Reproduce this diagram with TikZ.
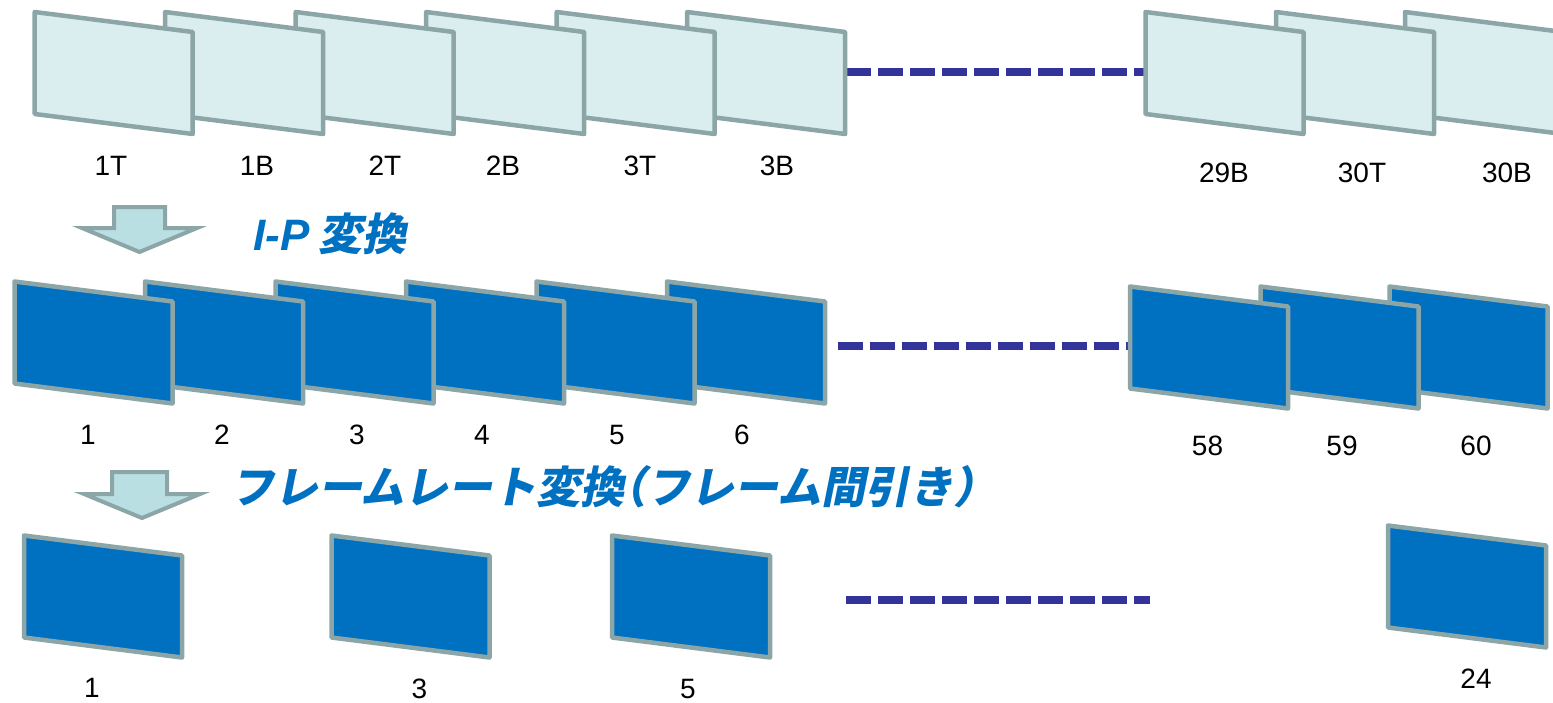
\documentclass[tikz,border=0pt]{standalone}
\usepackage{fontspec}
\setmainfont{Liberation Sans}
\newfontfamily\jfont[FakeSlant=0.2]{Noto Sans CJK JP}
\newfontfamily\lfont{Liberation Sans}
\definecolor{palec}{RGB}{218,237,239}
\definecolor{edgec}{RGB}{140,166,168}
\definecolor{bluec}{RGB}{0,112,192}
\definecolor{dashc}{RGB}{51,51,153}
\definecolor{arrowc}{RGB}{185,223,227}
\newcommand\drawscreen[4]{%
  \draw[#4] (#2,#3) coordinate (#1) -- ++(158,20) -- ++(0,102) -- ++(-158,-20) -- cycle;}
\tikzset{
  scrn/.style={line width=4.5pt, draw=edgec, line join=round},
  pale/.style={scrn, fill=palec},
  deep/.style={scrn, fill=bluec},
  dots/.style={draw=dashc, line width=8.5pt, dash pattern=on 24.5pt off 7.5pt},
  down/.style={draw=edgec, fill=arrowc, line width=4pt, line join=miter},
  lbl/.style={font=\fontsize{28}{30}\selectfont, anchor=base, inner sep=0pt},
  ttl/.style={text=bluec, anchor=base west, inner sep=0pt, font=\fontsize{44}{48}\selectfont\bfseries}
}
\begin{document}
\begin{tikzpicture}[x=1pt,y=-1pt]
\useasboundingbox (0,0) rectangle (1553,702);
% dashed gaps
\coordinate (dt1) at (846,72);  \coordinate (dt2) at (1148,72);
\coordinate (dm1) at (838,346); \coordinate (dm2) at (1132,346);
\coordinate (db1) at (846,600); \coordinate (db2) at (1150,600);
\draw[dots] (dt1) -- (dt2);
\draw[dots] (dm1) -- (dm2);
\draw[dots] (db1) -- (db2);
% top row (fields)
\drawscreen{f30B}{1405}{12}{pale}
\drawscreen{f30T}{1276}{12}{pale}
\drawscreen{f29B}{1145.5}{12}{pale}
\drawscreen{f3B}{687.2}{12}{pale}
\drawscreen{f3T}{556.7}{12}{pale}
\drawscreen{f2B}{426.2}{12}{pale}
\drawscreen{f2T}{295.7}{12}{pale}
\drawscreen{f1B}{165.2}{12}{pale}
\drawscreen{f1T}{34.7}{12}{pale}
% middle row (frames)
\drawscreen{p60}{1389.5}{286.5}{deep}
\drawscreen{p59}{1260.5}{286.5}{deep}
\drawscreen{p58}{1130}{286.5}{deep}
\drawscreen{p6}{667}{281.5}{deep}
\drawscreen{p5}{536.5}{281.5}{deep}
\drawscreen{p4}{406}{281.5}{deep}
\drawscreen{p3}{275.5}{281.5}{deep}
\drawscreen{p2}{145}{281.5}{deep}
\drawscreen{p1}{14.5}{281.5}{deep}
% bottom row
\drawscreen{q1}{24}{535.5}{deep}
\drawscreen{q3}{331.5}{535.5}{deep}
\drawscreen{q5}{612}{535.5}{deep}
\drawscreen{q24}{1388}{525.5}{deep}
% arrows
\draw[down] (114,207) -- (165,207) -- (165,228) -- (197,228) -- (139.5,252) -- (82,228) -- (114,228) -- cycle;
\draw[down] (112,472) -- (167,472) -- (167,494) -- (200,494) -- (142,518) -- (84,494) -- (112,494) -- cycle;
% titles
\node[ttl] (t1) at (253,250) {\lfont\itshape I-P\kern9pt\jfont 変換};
\node[ttl] (t2) at (230,503) {\jfont フレームレート変換\kern-0.5em（フレーム間引き）};
% labels
\node[lbl] (a1) at (111,175) {1T};
\node[lbl] (a2) at (257,175) {1B};
\node[lbl] (a3) at (385,175) {2T};
\node[lbl] (a4) at (503,175) {2B};
\node[lbl] (a5) at (640,175) {3T};
\node[lbl] (a6) at (777,175) {3B};
\node[lbl] (a7) at (1224,182) {29B};
\node[lbl] (a8) at (1362,182) {30T};
\node[lbl] (a9) at (1507,182) {30B};
\node[lbl] (b1) at (88,444) {1};
\node[lbl] (b2) at (222,444) {2};
\node[lbl] (b3) at (357,444) {3};
\node[lbl] (b4) at (482,444) {4};
\node[lbl] (b5) at (617,444) {5};
\node[lbl] (b6) at (742,444) {6};
\node[lbl] (b7) at (1207.5,455) {58};
\node[lbl] (b8) at (1342,455) {59};
\node[lbl] (b9) at (1476,455) {60};
\node[lbl] (c1) at (92,697) {1};
\node[lbl] (c2) at (419.5,698) {3};
\node[lbl] (c3) at (688,698) {5};
\node[lbl] (c4) at (1476,688) {24};
\end{tikzpicture}
\end{document}
